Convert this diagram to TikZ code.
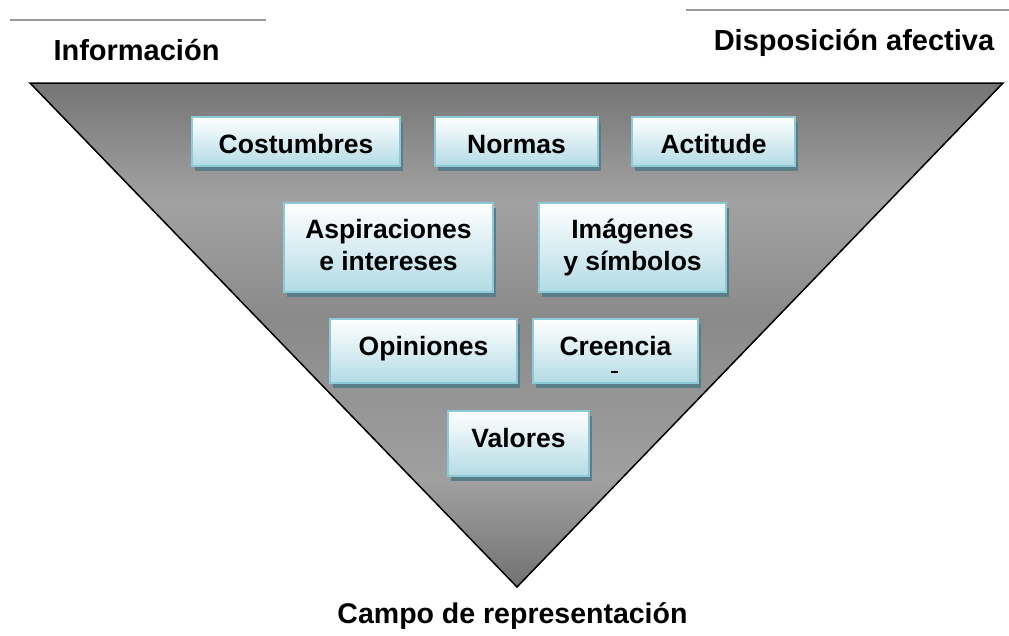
\documentclass[tikz,border=0pt]{standalone}
\usepackage{fontspec}
\setmainfont{Liberation Sans}
\usetikzlibrary{shadows}
\definecolor{tT}{HTML}{757575}
\definecolor{tL1}{HTML}{A2A2A2}
\definecolor{tD}{HTML}{8A8A8A}
\definecolor{tL2}{HTML}{A0A0A0}
\definecolor{tB}{HTML}{727272}
\definecolor{trishadow}{HTML}{8C8C8C}
\definecolor{boxborder}{HTML}{8DCAD7}
\definecolor{boxbot}{HTML}{B3DBE5}
\definecolor{boxshadow}{HTML}{5B7D88}
\definecolor{rulegray}{HTML}{9A9A9A}
\pgfdeclareverticalshading{trishade}{100bp}{color(0bp)=(tB); color(25bp)=(tB); color(35.6bp)=(tL2); color(51.5bp)=(tD); color(63.4bp)=(tL1); color(75bp)=(tT); color(100bp)=(tT)}
\tikzset{
  boxshape/.style={draw=boxborder, line width=2pt, top color=white, bottom color=boxbot,
    inner sep=0pt, drop shadow={shadow xshift=3pt, shadow yshift=-5pt, fill=boxshadow, opacity=1}},
  boxtext/.style={font=\fontsize{26.5}{32}\selectfont\bfseries, align=center, inner sep=0pt},
  title/.style={font=\fontsize{29}{34}\selectfont\bfseries, inner sep=0pt, anchor=base},
  topline/.style={draw=rulegray, line width=1.5pt}
}
\begin{document}
\begin{tikzpicture}[x=1pt,y=-1pt]
\useasboundingbox (0,0) rectangle (1009,635);
% top rules
\coordinate (l1a) at (10,20); \coordinate (l1b) at (266,20);
\coordinate (l2a) at (686,10); \coordinate (l2b) at (1009,10);
\draw[topline] (l1a) -- (l1b);
\draw[topline] (l2a) -- (l2b);
% titles
\node[title] (info) at (136.5,60) {Información};
\node[title] (disp) at (854,50) {Disposición afectiva};
\node[title, font=\fontsize{28.5}{34}\selectfont\bfseries] (campo) at (512.5,623) {Campo de representación};
% triangle
\coordinate (tl) at (30,83); \coordinate (tr) at (1003,83); \coordinate (bt) at (517,587);
\fill[trishadow, shift={(5,6)}] (tl) -- (tr) -- (bt) -- cycle;
\shade[shading=trishade] (tl) -- (tr) -- (bt) -- cycle;
\draw[black, line width=1.5pt, line join=miter] (tl) -- (tr) -- (bt) -- cycle;
% boxes
\node[boxshape, minimum width=208pt, minimum height=49pt] (cos) at (296,141.5) {};
\node[boxshape, minimum width=163pt, minimum height=49pt] (nor) at (516.5,141.5) {};
\node[boxshape, minimum width=163pt, minimum height=49pt] (act) at (713.5,141.5) {};
\node[boxshape, minimum width=209pt, minimum height=89pt] (asp) at (388.5,247.5) {};
\node[boxshape, minimum width=187pt, minimum height=89pt] (ima) at (632.5,247.5) {};
\node[boxshape, minimum width=187pt, minimum height=64pt] (opi) at (423.5,351) {};
\node[boxshape, minimum width=165pt, minimum height=64pt] (cre) at (615.5,351) {};
\node[boxshape, minimum width=141pt, minimum height=65pt] (val) at (518.5,443.5) {};
% box texts
\node[boxtext, anchor=base] (tcos) at (296,153) {Costumbres};
\node[boxtext, anchor=base] (tnor) at (516.5,153) {Normas};
\node[boxtext, anchor=base] (tact) at (713.5,153) {Actitude};
\node[boxtext] (tasp) at (388.5,245.5) {Aspiraciones\\e intereses};
\node[boxtext] (tima) at (632.5,247.5) {Imágenes\\y símbolos};
\node[boxtext, anchor=base] (topi) at (423.5,355) {Opiniones};
\node[boxtext, anchor=base] (tcre) at (615.5,355) {Creencia};
\node[inner sep=0pt] (dash) at (614,372) {\rule{7pt}{1.3pt}};
\node[boxtext, anchor=base] (tval) at (518.5,447) {Valores};
\end{tikzpicture}
\end{document}
